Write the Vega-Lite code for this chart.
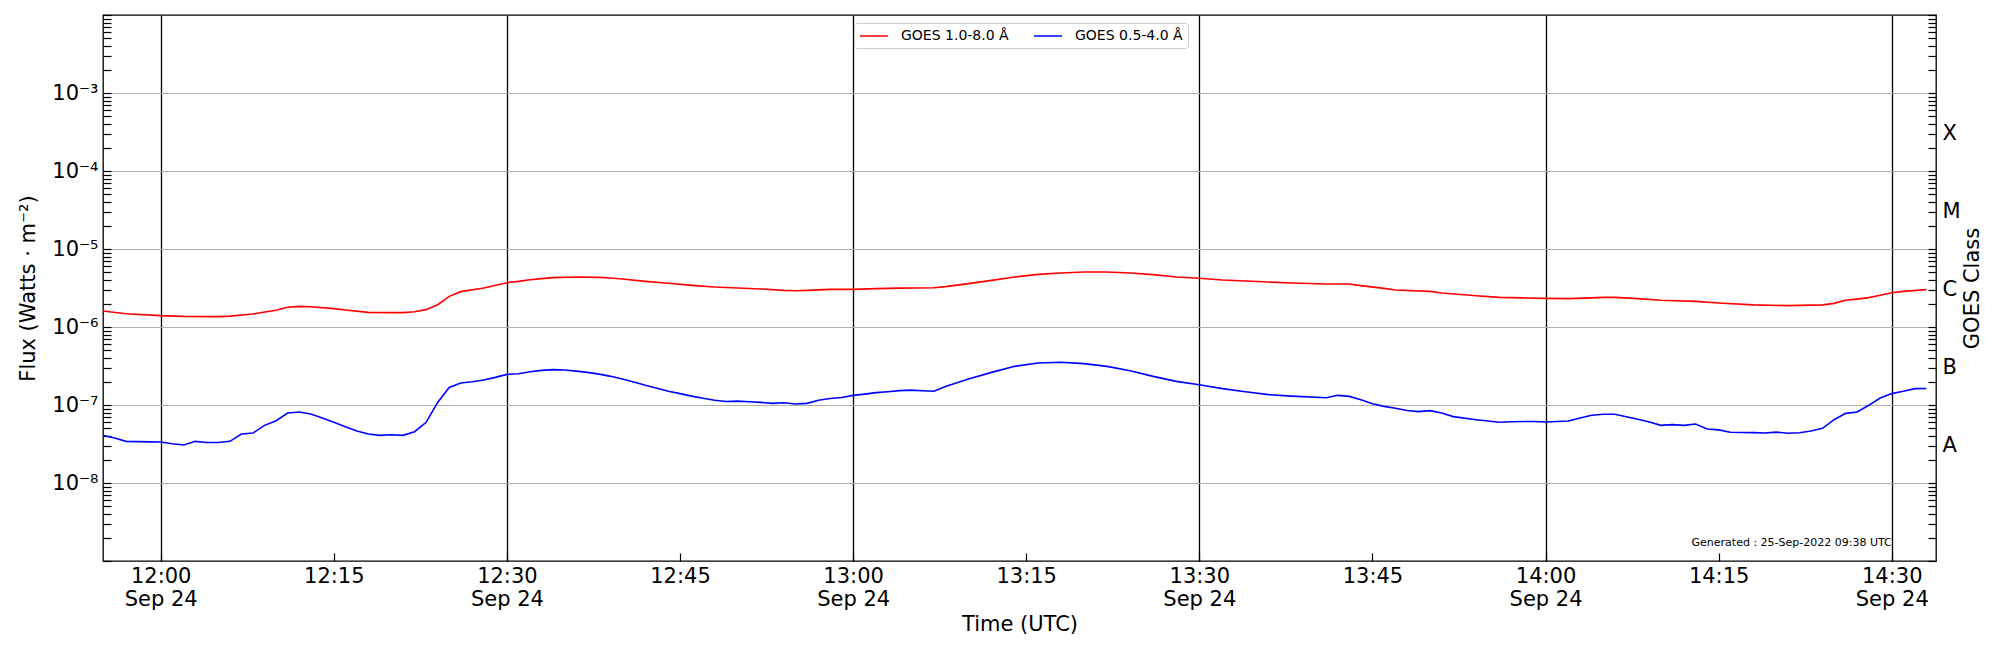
{
  "$schema": "https://vega.github.io/schema/vega-lite/v6.json",
  "autosize": "none",
  "width": 1833,
  "height": 546,
  "padding": {"left": 103, "top": 15, "right": 64, "bottom": 89},
  "background": "white",
  "config": {
    "font": "DejaVu Sans",
    "view": {"stroke": "black", "strokeWidth": 1.3},
    "axis": {
      "labelFontSize": 21,
      "titleFontSize": 21,
      "titleFontWeight": "normal",
      "labelColor": "black",
      "titleColor": "black",
      "tickColor": "black",
      "tickWidth": 1.2,
      "tickSize": -8,
      "domain": false,
      "labelOverlap": false,
      "labelBound": false,
      "labelFlush": false
    }
  },
  "data": {
    "format": {"parse": {"t": "utc:'%Y-%m-%d %H:%M'"}},
    "values": [
      {"t": "2022-09-24 11:55", "s": "GOES 1.0-8.0 Å", "f": 1.60e-6},
      {"t": "2022-09-24 11:57", "s": "GOES 1.0-8.0 Å", "f": 1.48e-6},
      {"t": "2022-09-24 12:00", "s": "GOES 1.0-8.0 Å", "f": 1.40e-6},
      {"t": "2022-09-24 12:02", "s": "GOES 1.0-8.0 Å", "f": 1.37e-6},
      {"t": "2022-09-24 12:05", "s": "GOES 1.0-8.0 Å", "f": 1.36e-6},
      {"t": "2022-09-24 12:06", "s": "GOES 1.0-8.0 Å", "f": 1.38e-6},
      {"t": "2022-09-24 12:08", "s": "GOES 1.0-8.0 Å", "f": 1.47e-6},
      {"t": "2022-09-24 12:10", "s": "GOES 1.0-8.0 Å", "f": 1.64e-6},
      {"t": "2022-09-24 12:11", "s": "GOES 1.0-8.0 Å", "f": 1.79e-6},
      {"t": "2022-09-24 12:12", "s": "GOES 1.0-8.0 Å", "f": 1.84e-6},
      {"t": "2022-09-24 12:13", "s": "GOES 1.0-8.0 Å", "f": 1.82e-6},
      {"t": "2022-09-24 12:15", "s": "GOES 1.0-8.0 Å", "f": 1.72e-6},
      {"t": "2022-09-24 12:16", "s": "GOES 1.0-8.0 Å", "f": 1.65e-6},
      {"t": "2022-09-24 12:18", "s": "GOES 1.0-8.0 Å", "f": 1.54e-6},
      {"t": "2022-09-24 12:20", "s": "GOES 1.0-8.0 Å", "f": 1.53e-6},
      {"t": "2022-09-24 12:21", "s": "GOES 1.0-8.0 Å", "f": 1.53e-6},
      {"t": "2022-09-24 12:22", "s": "GOES 1.0-8.0 Å", "f": 1.57e-6},
      {"t": "2022-09-24 12:23", "s": "GOES 1.0-8.0 Å", "f": 1.67e-6},
      {"t": "2022-09-24 12:24", "s": "GOES 1.0-8.0 Å", "f": 1.93e-6},
      {"t": "2022-09-24 12:25", "s": "GOES 1.0-8.0 Å", "f": 2.47e-6},
      {"t": "2022-09-24 12:26", "s": "GOES 1.0-8.0 Å", "f": 2.84e-6},
      {"t": "2022-09-24 12:28", "s": "GOES 1.0-8.0 Å", "f": 3.16e-6},
      {"t": "2022-09-24 12:30", "s": "GOES 1.0-8.0 Å", "f": 3.70e-6},
      {"t": "2022-09-24 12:31", "s": "GOES 1.0-8.0 Å", "f": 3.85e-6},
      {"t": "2022-09-24 12:32", "s": "GOES 1.0-8.0 Å", "f": 4.04e-6},
      {"t": "2022-09-24 12:33", "s": "GOES 1.0-8.0 Å", "f": 4.17e-6},
      {"t": "2022-09-24 12:34", "s": "GOES 1.0-8.0 Å", "f": 4.29e-6},
      {"t": "2022-09-24 12:36", "s": "GOES 1.0-8.0 Å", "f": 4.37e-6},
      {"t": "2022-09-24 12:38", "s": "GOES 1.0-8.0 Å", "f": 4.33e-6},
      {"t": "2022-09-24 12:39", "s": "GOES 1.0-8.0 Å", "f": 4.25e-6},
      {"t": "2022-09-24 12:40", "s": "GOES 1.0-8.0 Å", "f": 4.12e-6},
      {"t": "2022-09-24 12:42", "s": "GOES 1.0-8.0 Å", "f": 3.85e-6},
      {"t": "2022-09-24 12:44", "s": "GOES 1.0-8.0 Å", "f": 3.63e-6},
      {"t": "2022-09-24 12:46", "s": "GOES 1.0-8.0 Å", "f": 3.42e-6},
      {"t": "2022-09-24 12:48", "s": "GOES 1.0-8.0 Å", "f": 3.26e-6},
      {"t": "2022-09-24 12:50", "s": "GOES 1.0-8.0 Å", "f": 3.16e-6},
      {"t": "2022-09-24 12:52", "s": "GOES 1.0-8.0 Å", "f": 3.07e-6},
      {"t": "2022-09-24 12:54", "s": "GOES 1.0-8.0 Å", "f": 2.95e-6},
      {"t": "2022-09-24 12:55", "s": "GOES 1.0-8.0 Å", "f": 2.92e-6},
      {"t": "2022-09-24 12:56", "s": "GOES 1.0-8.0 Å", "f": 2.95e-6},
      {"t": "2022-09-24 12:58", "s": "GOES 1.0-8.0 Å", "f": 3.04e-6},
      {"t": "2022-09-24 13:00", "s": "GOES 1.0-8.0 Å", "f": 3.04e-6},
      {"t": "2022-09-24 13:02", "s": "GOES 1.0-8.0 Å", "f": 3.10e-6},
      {"t": "2022-09-24 13:04", "s": "GOES 1.0-8.0 Å", "f": 3.15e-6},
      {"t": "2022-09-24 13:07", "s": "GOES 1.0-8.0 Å", "f": 3.19e-6},
      {"t": "2022-09-24 13:08", "s": "GOES 1.0-8.0 Å", "f": 3.29e-6},
      {"t": "2022-09-24 13:10", "s": "GOES 1.0-8.0 Å", "f": 3.60e-6},
      {"t": "2022-09-24 13:12", "s": "GOES 1.0-8.0 Å", "f": 3.96e-6},
      {"t": "2022-09-24 13:14", "s": "GOES 1.0-8.0 Å", "f": 4.37e-6},
      {"t": "2022-09-24 13:16", "s": "GOES 1.0-8.0 Å", "f": 4.73e-6},
      {"t": "2022-09-24 13:18", "s": "GOES 1.0-8.0 Å", "f": 4.92e-6},
      {"t": "2022-09-24 13:20", "s": "GOES 1.0-8.0 Å", "f": 5.07e-6},
      {"t": "2022-09-24 13:22", "s": "GOES 1.0-8.0 Å", "f": 5.07e-6},
      {"t": "2022-09-24 13:24", "s": "GOES 1.0-8.0 Å", "f": 4.92e-6},
      {"t": "2022-09-24 13:26", "s": "GOES 1.0-8.0 Å", "f": 4.69e-6},
      {"t": "2022-09-24 13:28", "s": "GOES 1.0-8.0 Å", "f": 4.37e-6},
      {"t": "2022-09-24 13:30", "s": "GOES 1.0-8.0 Å", "f": 4.21e-6},
      {"t": "2022-09-24 13:32", "s": "GOES 1.0-8.0 Å", "f": 4.00e-6},
      {"t": "2022-09-24 13:34", "s": "GOES 1.0-8.0 Å", "f": 3.88e-6},
      {"t": "2022-09-24 13:36", "s": "GOES 1.0-8.0 Å", "f": 3.77e-6},
      {"t": "2022-09-24 13:38", "s": "GOES 1.0-8.0 Å", "f": 3.66e-6},
      {"t": "2022-09-24 13:41", "s": "GOES 1.0-8.0 Å", "f": 3.56e-6},
      {"t": "2022-09-24 13:43", "s": "GOES 1.0-8.0 Å", "f": 3.56e-6},
      {"t": "2022-09-24 13:44", "s": "GOES 1.0-8.0 Å", "f": 3.39e-6},
      {"t": "2022-09-24 13:46", "s": "GOES 1.0-8.0 Å", "f": 3.13e-6},
      {"t": "2022-09-24 13:47", "s": "GOES 1.0-8.0 Å", "f": 2.98e-6},
      {"t": "2022-09-24 13:50", "s": "GOES 1.0-8.0 Å", "f": 2.86e-6},
      {"t": "2022-09-24 13:51", "s": "GOES 1.0-8.0 Å", "f": 2.73e-6},
      {"t": "2022-09-24 13:54", "s": "GOES 1.0-8.0 Å", "f": 2.52e-6},
      {"t": "2022-09-24 13:56", "s": "GOES 1.0-8.0 Å", "f": 2.40e-6},
      {"t": "2022-09-24 13:58", "s": "GOES 1.0-8.0 Å", "f": 2.36e-6},
      {"t": "2022-09-24 14:00", "s": "GOES 1.0-8.0 Å", "f": 2.33e-6},
      {"t": "2022-09-24 14:02", "s": "GOES 1.0-8.0 Å", "f": 2.31e-6},
      {"t": "2022-09-24 14:04", "s": "GOES 1.0-8.0 Å", "f": 2.36e-6},
      {"t": "2022-09-24 14:05", "s": "GOES 1.0-8.0 Å", "f": 2.40e-6},
      {"t": "2022-09-24 14:06", "s": "GOES 1.0-8.0 Å", "f": 2.40e-6},
      {"t": "2022-09-24 14:08", "s": "GOES 1.0-8.0 Å", "f": 2.31e-6},
      {"t": "2022-09-24 14:10", "s": "GOES 1.0-8.0 Å", "f": 2.20e-6},
      {"t": "2022-09-24 14:13", "s": "GOES 1.0-8.0 Å", "f": 2.13e-6},
      {"t": "2022-09-24 14:15", "s": "GOES 1.0-8.0 Å", "f": 2.03e-6},
      {"t": "2022-09-24 14:18", "s": "GOES 1.0-8.0 Å", "f": 1.92e-6},
      {"t": "2022-09-24 14:21", "s": "GOES 1.0-8.0 Å", "f": 1.88e-6},
      {"t": "2022-09-24 14:24", "s": "GOES 1.0-8.0 Å", "f": 1.92e-6},
      {"t": "2022-09-24 14:25", "s": "GOES 1.0-8.0 Å", "f": 2.01e-6},
      {"t": "2022-09-24 14:26", "s": "GOES 1.0-8.0 Å", "f": 2.20e-6},
      {"t": "2022-09-24 14:27", "s": "GOES 1.0-8.0 Å", "f": 2.28e-6},
      {"t": "2022-09-24 14:28", "s": "GOES 1.0-8.0 Å", "f": 2.38e-6},
      {"t": "2022-09-24 14:29", "s": "GOES 1.0-8.0 Å", "f": 2.55e-6},
      {"t": "2022-09-24 14:30", "s": "GOES 1.0-8.0 Å", "f": 2.75e-6},
      {"t": "2022-09-24 14:31", "s": "GOES 1.0-8.0 Å", "f": 2.86e-6},
      {"t": "2022-09-24 14:33", "s": "GOES 1.0-8.0 Å", "f": 3.01e-6},

      {"t": "2022-09-24 11:55", "s": "GOES 0.5-4.0 Å", "f": 4.08e-8},
      {"t": "2022-09-24 11:56", "s": "GOES 0.5-4.0 Å", "f": 3.78e-8},
      {"t": "2022-09-24 11:57", "s": "GOES 0.5-4.0 Å", "f": 3.42e-8},
      {"t": "2022-09-24 11:59", "s": "GOES 0.5-4.0 Å", "f": 3.37e-8},
      {"t": "2022-09-24 12:00", "s": "GOES 0.5-4.0 Å", "f": 3.35e-8},
      {"t": "2022-09-24 12:01", "s": "GOES 0.5-4.0 Å", "f": 3.19e-8},
      {"t": "2022-09-24 12:02", "s": "GOES 0.5-4.0 Å", "f": 3.07e-8},
      {"t": "2022-09-24 12:03", "s": "GOES 0.5-4.0 Å", "f": 3.42e-8},
      {"t": "2022-09-24 12:04", "s": "GOES 0.5-4.0 Å", "f": 3.30e-8},
      {"t": "2022-09-24 12:05", "s": "GOES 0.5-4.0 Å", "f": 3.30e-8},
      {"t": "2022-09-24 12:06", "s": "GOES 0.5-4.0 Å", "f": 3.42e-8},
      {"t": "2022-09-24 12:07", "s": "GOES 0.5-4.0 Å", "f": 4.25e-8},
      {"t": "2022-09-24 12:08", "s": "GOES 0.5-4.0 Å", "f": 4.37e-8},
      {"t": "2022-09-24 12:09", "s": "GOES 0.5-4.0 Å", "f": 5.48e-8},
      {"t": "2022-09-24 12:10", "s": "GOES 0.5-4.0 Å", "f": 6.29e-8},
      {"t": "2022-09-24 12:11", "s": "GOES 0.5-4.0 Å", "f": 7.89e-8},
      {"t": "2022-09-24 12:12", "s": "GOES 0.5-4.0 Å", "f": 8.12e-8},
      {"t": "2022-09-24 12:13", "s": "GOES 0.5-4.0 Å", "f": 7.67e-8},
      {"t": "2022-09-24 12:14", "s": "GOES 0.5-4.0 Å", "f": 6.81e-8},
      {"t": "2022-09-24 12:15", "s": "GOES 0.5-4.0 Å", "f": 6.00e-8},
      {"t": "2022-09-24 12:16", "s": "GOES 0.5-4.0 Å", "f": 5.27e-8},
      {"t": "2022-09-24 12:17", "s": "GOES 0.5-4.0 Å", "f": 4.64e-8},
      {"t": "2022-09-24 12:18", "s": "GOES 0.5-4.0 Å", "f": 4.25e-8},
      {"t": "2022-09-24 12:19", "s": "GOES 0.5-4.0 Å", "f": 4.08e-8},
      {"t": "2022-09-24 12:20", "s": "GOES 0.5-4.0 Å", "f": 4.15e-8},
      {"t": "2022-09-24 12:21", "s": "GOES 0.5-4.0 Å", "f": 4.08e-8},
      {"t": "2022-09-24 12:22", "s": "GOES 0.5-4.0 Å", "f": 4.55e-8},
      {"t": "2022-09-24 12:23", "s": "GOES 0.5-4.0 Å", "f": 6.00e-8},
      {"t": "2022-09-24 12:24", "s": "GOES 0.5-4.0 Å", "f": 1.08e-7},
      {"t": "2022-09-24 12:25", "s": "GOES 0.5-4.0 Å", "f": 1.68e-7},
      {"t": "2022-09-24 12:26", "s": "GOES 0.5-4.0 Å", "f": 1.91e-7},
      {"t": "2022-09-24 12:27", "s": "GOES 0.5-4.0 Å", "f": 1.99e-7},
      {"t": "2022-09-24 12:28", "s": "GOES 0.5-4.0 Å", "f": 2.09e-7},
      {"t": "2022-09-24 12:29", "s": "GOES 0.5-4.0 Å", "f": 2.26e-7},
      {"t": "2022-09-24 12:30", "s": "GOES 0.5-4.0 Å", "f": 2.47e-7},
      {"t": "2022-09-24 12:31", "s": "GOES 0.5-4.0 Å", "f": 2.52e-7},
      {"t": "2022-09-24 12:32", "s": "GOES 0.5-4.0 Å", "f": 2.67e-7},
      {"t": "2022-09-24 12:33", "s": "GOES 0.5-4.0 Å", "f": 2.78e-7},
      {"t": "2022-09-24 12:34", "s": "GOES 0.5-4.0 Å", "f": 2.84e-7},
      {"t": "2022-09-24 12:35", "s": "GOES 0.5-4.0 Å", "f": 2.81e-7},
      {"t": "2022-09-24 12:36", "s": "GOES 0.5-4.0 Å", "f": 2.72e-7},
      {"t": "2022-09-24 12:37", "s": "GOES 0.5-4.0 Å", "f": 2.62e-7},
      {"t": "2022-09-24 12:38", "s": "GOES 0.5-4.0 Å", "f": 2.49e-7},
      {"t": "2022-09-24 12:39", "s": "GOES 0.5-4.0 Å", "f": 2.33e-7},
      {"t": "2022-09-24 12:40", "s": "GOES 0.5-4.0 Å", "f": 2.15e-7},
      {"t": "2022-09-24 12:41", "s": "GOES 0.5-4.0 Å", "f": 1.97e-7},
      {"t": "2022-09-24 12:42", "s": "GOES 0.5-4.0 Å", "f": 1.79e-7},
      {"t": "2022-09-24 12:43", "s": "GOES 0.5-4.0 Å", "f": 1.64e-7},
      {"t": "2022-09-24 12:44", "s": "GOES 0.5-4.0 Å", "f": 1.50e-7},
      {"t": "2022-09-24 12:45", "s": "GOES 0.5-4.0 Å", "f": 1.40e-7},
      {"t": "2022-09-24 12:46", "s": "GOES 0.5-4.0 Å", "f": 1.30e-7},
      {"t": "2022-09-24 12:47", "s": "GOES 0.5-4.0 Å", "f": 1.22e-7},
      {"t": "2022-09-24 12:48", "s": "GOES 0.5-4.0 Å", "f": 1.15e-7},
      {"t": "2022-09-24 12:49", "s": "GOES 0.5-4.0 Å", "f": 1.11e-7},
      {"t": "2022-09-24 12:50", "s": "GOES 0.5-4.0 Å", "f": 1.12e-7},
      {"t": "2022-09-24 12:51", "s": "GOES 0.5-4.0 Å", "f": 1.10e-7},
      {"t": "2022-09-24 12:52", "s": "GOES 0.5-4.0 Å", "f": 1.08e-7},
      {"t": "2022-09-24 12:53", "s": "GOES 0.5-4.0 Å", "f": 1.05e-7},
      {"t": "2022-09-24 12:54", "s": "GOES 0.5-4.0 Å", "f": 1.07e-7},
      {"t": "2022-09-24 12:55", "s": "GOES 0.5-4.0 Å", "f": 1.03e-7},
      {"t": "2022-09-24 12:56", "s": "GOES 0.5-4.0 Å", "f": 1.05e-7},
      {"t": "2022-09-24 12:57", "s": "GOES 0.5-4.0 Å", "f": 1.15e-7},
      {"t": "2022-09-24 12:58", "s": "GOES 0.5-4.0 Å", "f": 1.21e-7},
      {"t": "2022-09-24 12:59", "s": "GOES 0.5-4.0 Å", "f": 1.25e-7},
      {"t": "2022-09-24 13:00", "s": "GOES 0.5-4.0 Å", "f": 1.33e-7},
      {"t": "2022-09-24 13:01", "s": "GOES 0.5-4.0 Å", "f": 1.38e-7},
      {"t": "2022-09-24 13:02", "s": "GOES 0.5-4.0 Å", "f": 1.44e-7},
      {"t": "2022-09-24 13:03", "s": "GOES 0.5-4.0 Å", "f": 1.48e-7},
      {"t": "2022-09-24 13:04", "s": "GOES 0.5-4.0 Å", "f": 1.53e-7},
      {"t": "2022-09-24 13:05", "s": "GOES 0.5-4.0 Å", "f": 1.55e-7},
      {"t": "2022-09-24 13:06", "s": "GOES 0.5-4.0 Å", "f": 1.52e-7},
      {"t": "2022-09-24 13:07", "s": "GOES 0.5-4.0 Å", "f": 1.50e-7},
      {"t": "2022-09-24 13:08", "s": "GOES 0.5-4.0 Å", "f": 1.73e-7},
      {"t": "2022-09-24 13:10", "s": "GOES 0.5-4.0 Å", "f": 2.15e-7},
      {"t": "2022-09-24 13:12", "s": "GOES 0.5-4.0 Å", "f": 2.62e-7},
      {"t": "2022-09-24 13:14", "s": "GOES 0.5-4.0 Å", "f": 3.13e-7},
      {"t": "2022-09-24 13:16", "s": "GOES 0.5-4.0 Å", "f": 3.45e-7},
      {"t": "2022-09-24 13:18", "s": "GOES 0.5-4.0 Å", "f": 3.53e-7},
      {"t": "2022-09-24 13:20", "s": "GOES 0.5-4.0 Å", "f": 3.39e-7},
      {"t": "2022-09-24 13:22", "s": "GOES 0.5-4.0 Å", "f": 3.13e-7},
      {"t": "2022-09-24 13:24", "s": "GOES 0.5-4.0 Å", "f": 2.75e-7},
      {"t": "2022-09-24 13:26", "s": "GOES 0.5-4.0 Å", "f": 2.33e-7},
      {"t": "2022-09-24 13:28", "s": "GOES 0.5-4.0 Å", "f": 2.01e-7},
      {"t": "2022-09-24 13:30", "s": "GOES 0.5-4.0 Å", "f": 1.82e-7},
      {"t": "2022-09-24 13:32", "s": "GOES 0.5-4.0 Å", "f": 1.62e-7},
      {"t": "2022-09-24 13:34", "s": "GOES 0.5-4.0 Å", "f": 1.48e-7},
      {"t": "2022-09-24 13:36", "s": "GOES 0.5-4.0 Å", "f": 1.36e-7},
      {"t": "2022-09-24 13:38", "s": "GOES 0.5-4.0 Å", "f": 1.30e-7},
      {"t": "2022-09-24 13:41", "s": "GOES 0.5-4.0 Å", "f": 1.24e-7},
      {"t": "2022-09-24 13:42", "s": "GOES 0.5-4.0 Å", "f": 1.33e-7},
      {"t": "2022-09-24 13:43", "s": "GOES 0.5-4.0 Å", "f": 1.29e-7},
      {"t": "2022-09-24 13:44", "s": "GOES 0.5-4.0 Å", "f": 1.17e-7},
      {"t": "2022-09-24 13:45", "s": "GOES 0.5-4.0 Å", "f": 1.04e-7},
      {"t": "2022-09-24 13:46", "s": "GOES 0.5-4.0 Å", "f": 9.6e-8},
      {"t": "2022-09-24 13:47", "s": "GOES 0.5-4.0 Å", "f": 9.1e-8},
      {"t": "2022-09-24 13:48", "s": "GOES 0.5-4.0 Å", "f": 8.5e-8},
      {"t": "2022-09-24 13:49", "s": "GOES 0.5-4.0 Å", "f": 8.22e-8},
      {"t": "2022-09-24 13:50", "s": "GOES 0.5-4.0 Å", "f": 8.46e-8},
      {"t": "2022-09-24 13:51", "s": "GOES 0.5-4.0 Å", "f": 7.89e-8},
      {"t": "2022-09-24 13:52", "s": "GOES 0.5-4.0 Å", "f": 7.1e-8},
      {"t": "2022-09-24 13:54", "s": "GOES 0.5-4.0 Å", "f": 6.48e-8},
      {"t": "2022-09-24 13:56", "s": "GOES 0.5-4.0 Å", "f": 6.00e-8},
      {"t": "2022-09-24 13:57", "s": "GOES 0.5-4.0 Å", "f": 6.11e-8},
      {"t": "2022-09-24 13:59", "s": "GOES 0.5-4.0 Å", "f": 6.15e-8},
      {"t": "2022-09-24 14:00", "s": "GOES 0.5-4.0 Å", "f": 6.06e-8},
      {"t": "2022-09-24 14:02", "s": "GOES 0.5-4.0 Å", "f": 6.24e-8},
      {"t": "2022-09-24 14:03", "s": "GOES 0.5-4.0 Å", "f": 6.81e-8},
      {"t": "2022-09-24 14:04", "s": "GOES 0.5-4.0 Å", "f": 7.38e-8},
      {"t": "2022-09-24 14:05", "s": "GOES 0.5-4.0 Å", "f": 7.62e-8},
      {"t": "2022-09-24 14:06", "s": "GOES 0.5-4.0 Å", "f": 7.62e-8},
      {"t": "2022-09-24 14:07", "s": "GOES 0.5-4.0 Å", "f": 7.08e-8},
      {"t": "2022-09-24 14:08", "s": "GOES 0.5-4.0 Å", "f": 6.55e-8},
      {"t": "2022-09-24 14:09", "s": "GOES 0.5-4.0 Å", "f": 6.06e-8},
      {"t": "2022-09-24 14:10", "s": "GOES 0.5-4.0 Å", "f": 5.48e-8},
      {"t": "2022-09-24 14:11", "s": "GOES 0.5-4.0 Å", "f": 5.60e-8},
      {"t": "2022-09-24 14:12", "s": "GOES 0.5-4.0 Å", "f": 5.48e-8},
      {"t": "2022-09-24 14:13", "s": "GOES 0.5-4.0 Å", "f": 5.70e-8},
      {"t": "2022-09-24 14:14", "s": "GOES 0.5-4.0 Å", "f": 4.92e-8},
      {"t": "2022-09-24 14:15", "s": "GOES 0.5-4.0 Å", "f": 4.80e-8},
      {"t": "2022-09-24 14:16", "s": "GOES 0.5-4.0 Å", "f": 4.47e-8},
      {"t": "2022-09-24 14:17", "s": "GOES 0.5-4.0 Å", "f": 4.45e-8},
      {"t": "2022-09-24 14:18", "s": "GOES 0.5-4.0 Å", "f": 4.42e-8},
      {"t": "2022-09-24 14:19", "s": "GOES 0.5-4.0 Å", "f": 4.37e-8},
      {"t": "2022-09-24 14:20", "s": "GOES 0.5-4.0 Å", "f": 4.49e-8},
      {"t": "2022-09-24 14:21", "s": "GOES 0.5-4.0 Å", "f": 4.34e-8},
      {"t": "2022-09-24 14:22", "s": "GOES 0.5-4.0 Å", "f": 4.40e-8},
      {"t": "2022-09-24 14:23", "s": "GOES 0.5-4.0 Å", "f": 4.64e-8},
      {"t": "2022-09-24 14:24", "s": "GOES 0.5-4.0 Å", "f": 5.02e-8},
      {"t": "2022-09-24 14:25", "s": "GOES 0.5-4.0 Å", "f": 6.48e-8},
      {"t": "2022-09-24 14:26", "s": "GOES 0.5-4.0 Å", "f": 7.82e-8},
      {"t": "2022-09-24 14:27", "s": "GOES 0.5-4.0 Å", "f": 8.12e-8},
      {"t": "2022-09-24 14:28", "s": "GOES 0.5-4.0 Å", "f": 9.91e-8},
      {"t": "2022-09-24 14:29", "s": "GOES 0.5-4.0 Å", "f": 1.23e-7},
      {"t": "2022-09-24 14:30", "s": "GOES 0.5-4.0 Å", "f": 1.40e-7},
      {"t": "2022-09-24 14:31", "s": "GOES 0.5-4.0 Å", "f": 1.50e-7},
      {"t": "2022-09-24 14:32", "s": "GOES 0.5-4.0 Å", "f": 1.62e-7},
      {"t": "2022-09-24 14:33", "s": "GOES 0.5-4.0 Å", "f": 1.63e-7}
    ]
  },
  "resolve": {"axis": {"y": "independent"}},
  "layer": [
    {
      "mark": {"type": "line", "strokeWidth": 1.6},
      "encoding": {
        "x": {
          "field": "t",
          "type": "temporal",
          "scale": {"type": "utc", "domain": [1664020500000, 1664030030000]},
          "axis": {
            "title": "Time (UTC)",
            "titleX": 916.5,
            "titleY": 63,
            "titleBaseline": "middle",
            "values": [1664020800000, 1664021700000, 1664022600000, 1664023500000, 1664024400000, 1664025300000, 1664026200000, 1664027100000, 1664028000000, 1664028900000, 1664029800000],
            "labelExpr": "utcminutes(datum.value) % 30 == 0 ? [utcFormat(datum.value, '%H:%M'), utcFormat(datum.value, '%b %d')] : utcFormat(datum.value, '%H:%M')",
            "labelPadding": 12,
            "labelLineHeight": 23,
            "grid": true,
            "gridColor": "black",
            "gridWidth": 1.3,
            "gridOpacity": {"condition": {"test": "utcminutes(datum.value) % 30 == 0", "value": 1}, "value": 0}
          }
        },
        "y": {
          "field": "f",
          "type": "quantitative",
          "scale": {"type": "log", "domain": [1e-9, 1e-2]},
          "axis": {
            "orient": "left",
            "title": "Flux (Watts · m⁻²)",
            "titleAngle": 270,
            "titleX": -75,
            "titleY": 273,
            "titleAlign": "center",
            "titleBaseline": "middle",
            "values": [1e-9, 2e-9, 3e-9, 4e-9, 5e-9, 6e-9, 7e-9, 8e-9, 9e-9,
                       1e-8, 2e-8, 3e-8, 4e-8, 5e-8, 6e-8, 7e-8, 8e-8, 9e-8,
                       1e-7, 2e-7, 3e-7, 4e-7, 5e-7, 6e-7, 7e-7, 8e-7, 9e-7,
                       1e-6, 2e-6, 3e-6, 4e-6, 5e-6, 6e-6, 7e-6, 8e-6, 9e-6,
                       1e-5, 2e-5, 3e-5, 4e-5, 5e-5, 6e-5, 7e-5, 8e-5, 9e-5,
                       1e-4, 2e-4, 3e-4, 4e-4, 5e-4, 6e-4, 7e-4, 8e-4, 9e-4,
                       1e-3, 2e-3, 3e-3, 4e-3, 5e-3, 6e-3, 7e-3, 8e-3, 9e-3, 1e-2],
            "labelExpr": "datum.value == 1e-8 ? '10⁻⁸' : datum.value == 1e-7 ? '10⁻⁷' : datum.value == 1e-6 ? '10⁻⁶' : datum.value == 1e-5 ? '10⁻⁵' : datum.value == 1e-4 ? '10⁻⁴' : datum.value == 1e-3 ? '10⁻³' : ''",
            "labelPadding": 13,
            "grid": true,
            "gridColor": "#b0b0b0",
            "gridWidth": 1.2,
            "gridOpacity": {"condition": {"test": "datum.value == 1e-8 || datum.value == 1e-7 || datum.value == 1e-6 || datum.value == 1e-5 || datum.value == 1e-4 || datum.value == 1e-3", "value": 1}, "value": 0}
          }
        },
        "color": {
          "field": "s",
          "type": "nominal",
          "scale": {"domain": ["GOES 1.0-8.0 Å", "GOES 0.5-4.0 Å"], "range": ["#ff0000", "#0000ff"]},
          "legend": {
            "title": null,
            "orient": "none",
            "legendX": 751,
            "legendY": 8,
            "direction": "horizontal",
            "symbolType": "M-2,0H2",
            "symbolSize": 196,
            "symbolStrokeWidth": 1.5,
            "symbolOffset": 7,
            "labelFontSize": 14,
            "labelColor": "black",
            "labelOffset": 19,
            "columnPadding": 22,
            "padding": 5,
            "strokeColor": "#cccccc",
            "fillColor": "white",
            "cornerRadius": 3
          }
        }
      }
    },
    {
      "data": {"values": [{}]},
      "mark": {"type": "text", "text": "Generated : 25-Sep-2022 09:38 UTC", "align": "right", "baseline": "middle", "fontSize": 11, "color": "black"},
      "encoding": {
        "x": {"datum": {"year": 2022, "month": "sep", "date": 24, "hours": 14, "minutes": 30, "utc": true}, "type": "temporal"},
        "y": {
          "datum": 1.72e-9,
          "type": "quantitative",
          "axis": {
            "orient": "right",
            "title": "GOES Class",
            "titleAngle": 270,
            "titleX": 36,
            "titleY": 273,
            "titleAlign": "center",
            "titleBaseline": "middle",
            "grid": false,
            "values": [1e-9, 2e-9, 3e-9, 4e-9, 5e-9, 6e-9, 7e-9, 8e-9, 9e-9,
                       1e-8, 2e-8, 3e-8, 4e-8, 5e-8, 6e-8, 7e-8, 8e-8, 9e-8,
                       1e-7, 2e-7, 3e-7, 4e-7, 5e-7, 6e-7, 7e-7, 8e-7, 9e-7,
                       1e-6, 2e-6, 3e-6, 4e-6, 5e-6, 6e-6, 7e-6, 8e-6, 9e-6,
                       1e-5, 2e-5, 3e-5, 4e-5, 5e-5, 6e-5, 7e-5, 8e-5, 9e-5,
                       1e-4, 2e-4, 3e-4, 4e-4, 5e-4, 6e-4, 7e-4, 8e-4, 9e-4,
                       1e-3, 2e-3, 3e-3, 4e-3, 5e-3, 6e-3, 7e-3, 8e-3, 9e-3, 1e-2],
            "labelExpr": "datum.value == 3e-8 ? 'A' : datum.value == 3e-7 ? 'B' : datum.value == 3e-6 ? 'C' : datum.value == 3e-5 ? 'M' : datum.value == 3e-4 ? 'X' : ''",
            "labelPadding": 14
          }
        }
      }
    }
  ]
}
